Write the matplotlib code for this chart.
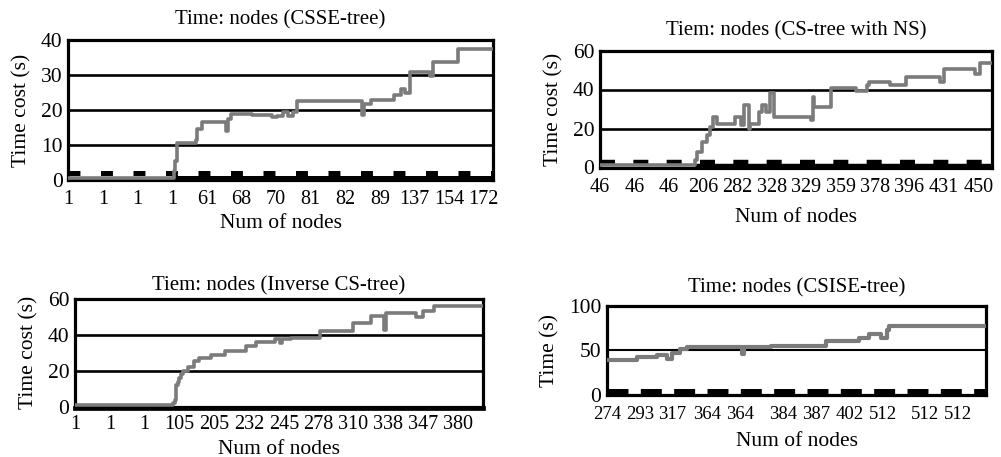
import matplotlib
matplotlib.use("Agg")
import matplotlib.pyplot as plt

plt.rcParams['font.family'] = ['Liberation Serif', 'DejaVu Serif']
plt.rcParams['lines.scale_dashes'] = False

W, H = 1001, 457
GRAY = '#7b7b7b'

# ---- panel 1: CSSE-tree ----
csse_labels = ['1', '1', '1', '1', '61', '68', '70', '81', '82', '89', '137', '154', '172']
csse_x = [0, 3.05, 3.09, 3.13, 3.68, 3.72, 3.87, 4.56, 4.62, 4.69, 5.32, 5.88, 6.04, 6.19,
          6.34, 6.5, 6.61, 8.49, 8.53, 8.75, 9.41, 9.6, 9.74, 9.86, 10.46, 10.54, 11.25, 12.27]
csse_y = [0.6, 2.5, 5.5, 10.5, 11.5, 14.5, 16.5, 14, 17.5, 19, 18.6, 18, 18.3, 19.5,
          18.2, 19.5, 22.5, 18.5, 21.8, 23, 24.2, 26, 25, 31, 29.8, 33.8, 37.4, 37.4]
csse_base_x = [3.0, 12.27]
csse_base_y = [0.7, 0.7]
csse_dash_y = 2.1

# ---- panel 2: CS-tree with NS ----
ns_labels = ['46', '46', '46', '206', '282', '328', '329', '359', '378', '396', '431', '450']
ns_x = [0, 2.76, 2.82, 2.96, 3.1, 3.2, 3.29, 3.39, 3.93, 4.09, 4.19, 4.32, 4.37, 4.61, 4.72,
        4.84, 4.95, 5.05, 6.14, 6.18, 6.23, 6.71, 7.45, 7.76, 7.81, 8.44, 8.9, 9.88, 9.99,
        10.92, 11.05, 11.4]
ns_y = [1.3, 4, 8, 13, 16.7, 21, 26, 22.5, 26, 21.6, 32, 20, 22.5, 28.6, 32,
        28.6, 38, 26, 24.6, 36.3, 31.2, 40.6, 39, 42.3, 43.6, 42.3, 46.6, 44, 50.5,
        48, 53.4, 53.4]
ns_base_x = [2.76, 11.4]
ns_base_y = [1.0, 1.0]
ns_dash_y = 3.0

# ---- panel 3: Inverse CS-tree ----
inv_labels = ['1', '1', '1', '105', '205', '232', '245', '278', '310', '338', '347', '380']
inv_x = [0, 2.82, 2.87, 2.9, 2.95, 2.98, 3.05, 3.1, 3.24, 3.43, 3.55, 3.9, 4.3, 4.9, 5.2,
         5.75, 5.88, 5.95, 6.2, 7.04, 8.0, 8.5, 8.88, 8.92, 9.8, 10.0, 10.3, 11.72]
inv_y = [0.8, 2.0, 3.8, 12.2, 14, 16, 18, 19.7, 22.1, 25.3, 27.2, 29, 30.9, 34, 36,
         37.5, 35.5, 37.5, 38, 42, 46.8, 50.5, 42.5, 52, 49.7, 53.4, 56.2, 56.2]
inv_base_x = [0, 11.72]
inv_base_y = [-0.8, -0.8]

# ---- panel 4: CSISE-tree ----
csise_labels = ['274', '293', '317', '364', '364', '384', '387', '402', '512', '512', '512']
csise_ticks = [0, 1.0, 1.95, 3.0, 4.0, 5.28, 6.29, 7.29, 8.29, 9.54, 10.53]
csise_x = [0, 0.89, 1.49, 1.79, 1.94, 2.19, 2.39, 4.06, 4.1, 4.93, 6.57, 7.57, 7.87,
           8.22, 8.42, 8.47, 11.38]
csise_y = [39.5, 42.2, 44.3, 40.5, 47, 52, 53.5, 46, 53.5, 55.5, 60.3, 64, 68.6,
           64, 73.5, 77.3, 77.3]
csise_dash_y = 4.2

fig = plt.figure(figsize=(W / 100, H / 100), dpi=100)


def make_axes(l, t, r, b):
    return fig.add_axes([l / W, 1 - b / H, (r - l) / W, (b - t) / H])


def style(ax, xmax, ymax, yticks, grid, ticks, labels, title, ylabel, tpad,
          grid_lw=1.9, xsize=14.5, xpad=6, xlpad=4):
    ax.set_xlim(0, xmax)
    ax.set_ylim(0, ymax)
    ax.set_yticks(yticks)
    ax.set_xticks(ticks)
    ax.set_xticklabels(labels)
    for g in grid:
        ax.axhline(g, color='black', lw=grid_lw, zorder=1)
    for s in ax.spines.values():
        s.set_linewidth(2.3)
    ax.tick_params(length=0)
    ax.tick_params(axis='x', pad=xpad, labelsize=xsize)
    ax.tick_params(axis='y', pad=4, labelsize=15.5)
    ax.set_title(title, fontsize=15, pad=tpad)
    ax.set_ylabel(ylabel, fontsize=15.5, labelpad=7)
    ax.set_xlabel('Num of nodes', fontsize=15.5, labelpad=xlpad)


# panel 1
ax1 = make_axes(68.3, 40, 493, 180)
ax1.plot([0, 12.27], [csse_dash_y, csse_dash_y], color='black', lw=3.6,
         dashes=(8.6, 14.8), dash_capstyle='butt', zorder=2)
ax1.plot(csse_base_x, csse_base_y, color='black', lw=3.6, zorder=2, solid_capstyle='butt')
ax1.step(csse_x, csse_y, where='post', color=GRAY, lw=2.6, zorder=3)
style(ax1, 12.27, 40, [0, 10, 20, 30, 40], [10, 20, 30], range(13), csse_labels,
      'Time: nodes (CSSE-tree)', 'Time cost (s)', 11, xpad=7)

# panel 2
ax2 = make_axes(600, 50.5, 992, 167.5)
ax2.plot([0, 11.4], [ns_dash_y, ns_dash_y], color='black', lw=3.2,
         dashes=(10.8, 13.2), dash_capstyle='butt', zorder=2)
ax2.plot(ns_base_x, ns_base_y, color='black', lw=3.2, zorder=2, solid_capstyle='butt')
ax2.step(ns_x, ns_y, where='post', color=GRAY, lw=2.6, zorder=3)
style(ax2, 11.4, 60, [0, 20, 40, 60], [20, 40], range(12), ns_labels,
      'Tiem: nodes (CS-tree with NS)', 'Time cost (s)', 11, xpad=7.5, xlpad=8)

# panel 3
ax3 = make_axes(75, 299, 483, 406.7)
ax3.plot(inv_base_x, inv_base_y, color='black', lw=3.4, zorder=2, clip_on=False)
ax3.step(inv_x, inv_y, where='post', color=GRAY, lw=2.6, zorder=3)
style(ax3, 11.72, 60, [0, 20, 40, 60], [20, 40], range(12), inv_labels,
      'Tiem: nodes (Inverse CS-tree)', 'Time cost (s)', 6)

# panel 4
ax4 = make_axes(607, 306.3, 986, 394.5)
ax4.plot([0, 11.38], [csise_dash_y, csise_dash_y], color='black', lw=3.6,
         dashes=(15.1, 8.9), dash_capstyle='butt', zorder=2)
ax4.step(csise_x, csise_y, where='post', color=GRAY, lw=3.0, zorder=3)
style(ax4, 11.38, 100, [0, 50, 100], [50], csise_ticks, csise_labels,
      'Time: nodes (CSISE-tree)', 'Time (s)', 10, grid_lw=1.5,
      xsize=13.5, xpad=8, xlpad=7)

fig.savefig('out.png', dpi=100, facecolor='white')
